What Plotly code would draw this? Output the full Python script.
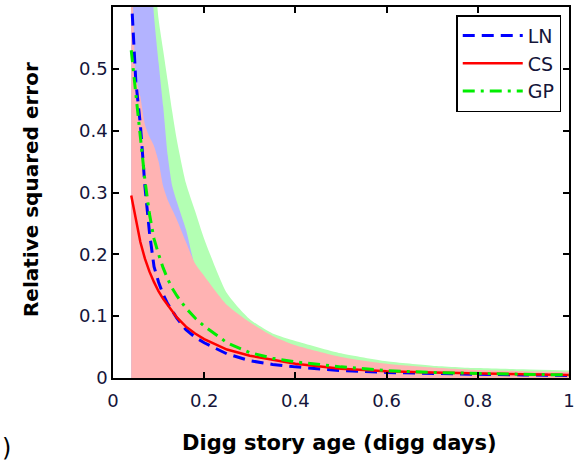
import plotly.graph_objects as go

# Digg story age (digg days)
x_age = [0.04, 0.05, 0.06, 0.07, 0.08, 0.09, 0.10, 0.11, 0.12, 0.13, 0.14, 0.16,
         0.18, 0.20, 0.25, 0.30, 0.35, 0.40, 0.50, 0.60, 0.70, 0.80, 0.90, 1.00]

# mean relative squared error
ln_mean = [0.62, 0.48, 0.41, 0.31, 0.235, 0.18, 0.155, 0.135, 0.12, 0.108, 0.097, 0.078,
           0.066, 0.057, 0.039, 0.028, 0.022, 0.018, 0.012, 0.009, 0.007, 0.006, 0.005, 0.004]
cs_mean = [0.295, 0.255, 0.22, 0.193, 0.172, 0.155, 0.14, 0.128, 0.118, 0.109, 0.098, 0.083,
           0.072, 0.063, 0.046, 0.036, 0.029, 0.023, 0.015, 0.011, 0.009, 0.007, 0.006, 0.005]
gp_mean = [0.53, 0.46, 0.395, 0.32, 0.265, 0.225, 0.2, 0.178, 0.16, 0.145, 0.133, 0.113,
           0.097, 0.084, 0.057, 0.041, 0.032, 0.026, 0.018, 0.012, 0.009, 0.007, 0.006, 0.005]

# upper edges of the shaded spread regions
ln_upper = [3.0, 2.0, 1.4, 0.95, 0.7, 0.585, 0.51, 0.44, 0.36, 0.31, 0.285, 0.24,
            0.18, 0.15, 0.1, 0.07, 0.052, 0.04, 0.025, 0.017, 0.012, 0.009, 0.008, 0.007]
cs_upper = [0.72, 0.49, 0.455, 0.41, 0.39, 0.375, 0.35, 0.31, 0.288, 0.272, 0.256, 0.22,
            0.185, 0.165, 0.118, 0.09, 0.068, 0.053, 0.034, 0.023, 0.017, 0.013, 0.011, 0.01]
gp_upper = [2.0, 1.6, 1.2, 0.95, 0.78, 0.66, 0.58, 0.53, 0.48, 0.43, 0.385, 0.315,
            0.27, 0.225, 0.137, 0.095, 0.072, 0.06, 0.04, 0.027, 0.02, 0.016, 0.014, 0.012]

x_ticks = [0, 0.2, 0.4, 0.6, 0.8, 1]
x_tick_text = ["0", "0.2", "0.4", "0.6", "0.8", "1"]
y_ticks = [0, 0.1, 0.2, 0.3, 0.4, 0.5]
y_tick_text = ["0", "0.1", "0.2", "0.3", "0.4", "0.5"]

FONT = "DejaVu Sans, Arial, sans-serif"
TXT = "#15153a"

fig = go.Figure()

# shaded regions (green, then blue, then red on top)
for upper, col in [(gp_upper, "#B3FFB3"), (ln_upper, "#B3B3FF"), (cs_upper, "#FFB3B3")]:
    fig.add_trace(go.Scatter(x=x_age, y=upper, mode="lines", fill="tozeroy",
                             fillcolor=col, line=dict(width=0, color=col, shape="spline", smoothing=0.6),
                             showlegend=False, hoverinfo="skip"))

fig.add_trace(go.Scatter(x=x_age, y=ln_mean, mode="lines", name="LN",
                         line=dict(color="#0000FF", width=3, dash="12px,7px")))
fig.add_trace(go.Scatter(x=x_age, y=cs_mean, mode="lines", name="CS",
                         line=dict(color="#FF0000", width=2.5)))
fig.add_trace(go.Scatter(x=x_age, y=gp_mean, mode="lines", name="GP",
                         line=dict(color="#00EE00", width=3, dash="12px,6px,3px,6px")))

axis_common = dict(showline=True, linecolor="black", linewidth=1.5, mirror="ticks",
                   ticks="inside", ticklen=6, tickwidth=1.5, tickcolor="black",
                   showgrid=False, zeroline=False, ticklabeloverflow="allow",
                   tickfont=dict(family=FONT, size=18, color=TXT))

fig.update_xaxes(range=[0, 1], tickvals=x_ticks, ticktext=x_tick_text,
                 ticklabelstandoff=6, **axis_common)
fig.update_yaxes(range=[0, 0.6], tickvals=y_ticks, ticktext=y_tick_text,
                 **axis_common)

fig.update_layout(
    width=578, height=464,
    margin=dict(l=113, r=3, t=7, b=86),
    plot_bgcolor="white", paper_bgcolor="white",
    legend=dict(x=0.983, y=0.978, xanchor="right", yanchor="top",
                bordercolor="black", borderwidth=1.5, bgcolor="white",
                font=dict(family=FONT, size=19, color=TXT),
                itemwidth=60, tracegroupgap=0),
    annotations=[
        dict(text="<b>Digg story age (digg days)</b>", xref="paper", yref="paper",
             x=(342 - 113) / 462, y=(378 - 443) / 371, showarrow=False,
             xanchor="center", yanchor="middle",
             font=dict(family=FONT, size=21, color="black")),
        dict(text="<b>Relative squared error</b>", xref="paper", yref="paper",
             x=(30 - 113) / 462, y=(378 - 190) / 371, showarrow=False, textangle=-90,
             xanchor="center", yanchor="middle",
             font=dict(family=FONT, size=20, color="black")),
        dict(text=")", xref="paper", yref="paper",
             x=(5 - 113) / 462, y=(378 - 448) / 371,
             showarrow=False, xanchor="center", yanchor="middle",
             font=dict(family=FONT, size=24, color="black")),
    ],
)

fig.write_html("out.html")
